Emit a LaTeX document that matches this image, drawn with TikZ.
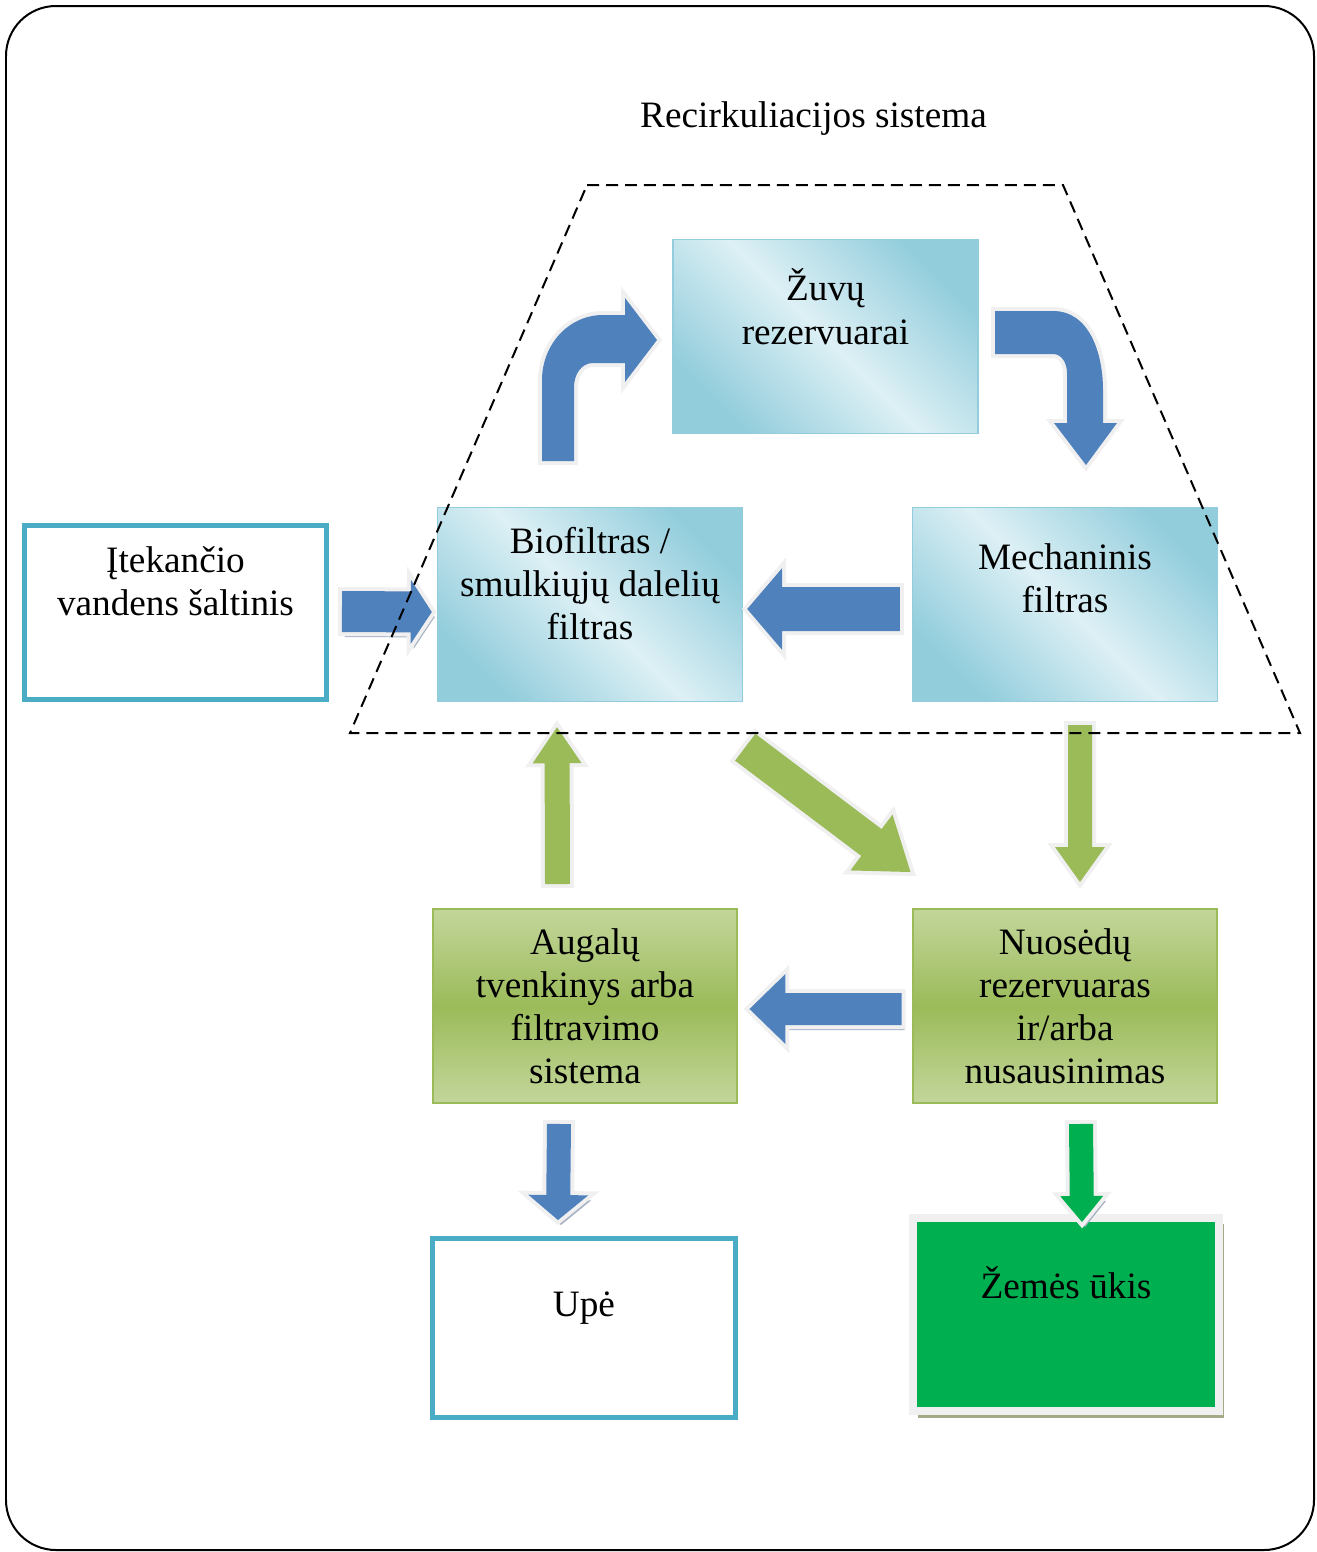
\documentclass[tikz,border=0pt]{standalone}
\usepackage{fontspec}
\setmainfont{Liberation Serif}
\usepackage{tikz}
\usetikzlibrary{calc,shadings}
\usepackage{xcolor}

\definecolor{arrowblue}{HTML}{4F81BD}
\definecolor{arrowgreen}{HTML}{9BBB59}
\definecolor{farmgreen}{HTML}{00B050}
\definecolor{boxlight}{HTML}{DDF0F5}
\definecolor{boxdark}{HTML}{92CDDC}
\definecolor{boxedge}{HTML}{93CDDD}
\definecolor{greenlight}{HTML}{C3D69B}
\definecolor{cyanedge}{HTML}{4BACC6}
\definecolor{glow}{HTML}{F0F0F0}
\definecolor{shadowgray}{HTML}{A9B3C6}
\definecolor{farmshadow}{HTML}{A3AA8A}

% blokine rodykle: [stilius]{pradzia}{smaigalys}{puse kamieno}{puse galvos}{galvos ilgis}
\newcommand{\blockarrow}[6][]{%
  \coordinate (ba) at ($(#3)!#6!(#2)$);
  \path[#1] ($(#2)!#4!90:(#3)$) -- ($(ba)!#4!90:(#3)$) -- ($(ba)!#5!90:(#3)$) -- (#3)
    -- ($(ba)!#5!-90:(#3)$) -- ($(ba)!#4!-90:(#3)$) -- ($(#2)!#4!-90:(#3)$) -- cycle;
}

\begin{document}
\begin{tikzpicture}[
    x=0.02cm, y=-0.02cm,
    font=\fontsize{21.2}{24.5}\selectfont,
    bluebox/.style={rectangle, draw=boxedge, line width=0.03cm, top color=boxdark, bottom color=boxdark, middle color=boxlight, shading angle=-45, minimum width=6.1cm, minimum height=3.88cm, align=center},
    greenbox/.style={rectangle, draw=arrowgreen, line width=0.04cm, top color=greenlight, bottom color=greenlight, middle color=arrowgreen, minimum width=6.1cm, minimum height=3.88cm, align=center},
    plainbox/.style={rectangle, draw=cyanedge, line width=0.1cm, fill=white, align=center},
    farmbox/.style={rectangle, fill=farmgreen, draw=glow, line width=0.16cm, minimum width=6.12cm, minimum height=3.88cm, align=center, preaction={fill=farmshadow, transform canvas={shift={(0.1cm,-0.13cm)}}}},
    shadowed/.style={preaction={fill=shadowgray, transform canvas={shift={(0.06cm,-0.1cm)}}}},
    bluearrow/.style={fill=arrowblue, preaction={draw=glow, line width=0.16cm}},
    greenarrow/.style={fill=arrowgreen, preaction={draw=glow, line width=0.16cm}},
    farmarrow/.style={fill=farmgreen, preaction={draw=glow, line width=0.16cm}},
    dashzone/.style={draw, dash pattern=on 0.24cm off 0.14cm, line width=0.04cm}
]
    \useasboundingbox (0,0) rectangle (1316,1552);
    % remelis
    \draw[line width=0.04cm, rounded corners=1cm] (6,6) rectangle (1314,1550);

    % pavadinimas
    \node[anchor=base] (title) at (813.5,127) {Recirkuliacijos sistema};

    % recirkuliacijos sistemos blokai
    \node[bluebox] (fish) at (825.5,336.5) {Žuvų\\rezervuarai\\[0.34cm]~};
    \node[bluebox] (bio) at (590,604.5) {Biofiltras /\\smulkiųjų dalelių\\filtras\\~};
    \node[bluebox] (mech) at (1065,604.5) {Mechaninis\\filtras\\[0.2cm]~};

    % kiti blokai
    \node[plainbox, minimum width=6.04cm, minimum height=3.48cm] (src) at (175.5,612.5) {Įtekančio\\vandens šaltinis\\[0.4cm]~};
    \node[greenbox] (plant) at (585,1006) {Augalų\\tvenkinys arba\\filtravimo\\sistema};
    \node[greenbox] (sludge) at (1065,1006) {Nuosėdų\\rezervuaras\\ir/arba\\nusausinimas};
    \node[plainbox, minimum width=6.06cm, minimum height=3.58cm] (river) at (584,1328) {Upė\\[0.1cm]~};
    \node[farmbox] (farm) at (1066,1314.5) {Žemės ūkis\\[0.42cm]~};

    % lenktos rodykles
    \path[bluearrow] (542,461) -- (542,380) to[out=90,in=180] (603,315) -- (625,315) -- (625,298) -- (657,340)
        -- (625,382) -- (625,363) -- (593,363) to[out=180,in=90] (574,387) -- (574,461) -- cycle;
    \path[bluearrow] (995,311) -- (1053,311) to[out=0,in=90] (1103,390) -- (1103,423) -- (1117,423) -- (1086,465)
        -- (1054,423) -- (1067,423) -- (1067,373) to[out=90,in=0] (1053,354) -- (995,354) -- cycle;

    % tiesios rodykles
    \coordinate (in-s) at ($(src.east)+(13,-1)$);
    \coordinate (in-t) at ($(bio.west)+(-5,7.5)$);
    \blockarrow[shadowed, bluearrow]{in-s}{in-t}{0.41cm}{0.64cm}{0.42cm}

    \coordinate (mb-s) at ($(mech.west)+(-12,4.5)$);
    \coordinate (mb-t) at ($(bio.east)+(4,4.5)$);
    \blockarrow[bluearrow]{mb-s}{mb-t}{0.44cm}{0.82cm}{0.7cm}

    \coordinate (pb-s) at ($(plant.north)+(-27.5,-24)$);
    \coordinate (pb-t) at ($(bio.south)+(-33,25)$);
    \blockarrow[greenarrow]{pb-s}{pb-t}{0.25cm}{0.49cm}{0.72cm}

    \coordinate (bs-s) at ($(bio.south east)+(2,45)$);
    \coordinate (bs-t) at ($(sludge.north west)+(-1,-36)$);
    \blockarrow[greenarrow]{bs-s}{bs-t}{0.336cm}{0.7cm}{0.98cm}

    \coordinate (ms-s) at ($(mech.south)+(15,23)$);
    \coordinate (ms-t) at ($(sludge.north)+(15,-26)$);
    \blockarrow[greenarrow]{ms-s}{ms-t}{0.24cm}{0.5cm}{0.7cm}

    \coordinate (sp-s) at ($(sludge.west)+(-10,3)$);
    \coordinate (sp-t) at ($(plant.east)+(11,3)$);
    \blockarrow[shadowed, bluearrow]{sp-s}{sp-t}{0.32cm}{0.7cm}{0.72cm}

    \coordinate (pr-s) at ($(plant.south)+(-26,20)$);
    \coordinate (pr-t) at ($(river.north)+(-26,-16)$);
    \blockarrow[shadowed, bluearrow]{pr-s}{pr-t}{0.24cm}{0.6cm}{0.5cm}

    \coordinate (sf-s) at ($(sludge.south)+(16,20)$);
    \coordinate (sf-t) at ($(farm.north)+(16,8.5)$);
    \blockarrow[shadowed, farmarrow]{sf-s}{sf-t}{0.24cm}{0.43cm}{0.52cm}

    % recirkuliacijos sistemos riba
    \path[dashzone] (587,185) -- (1063,185) -- (1300,733) -- (350,733) -- cycle;
\end{tikzpicture}
\end{document}
